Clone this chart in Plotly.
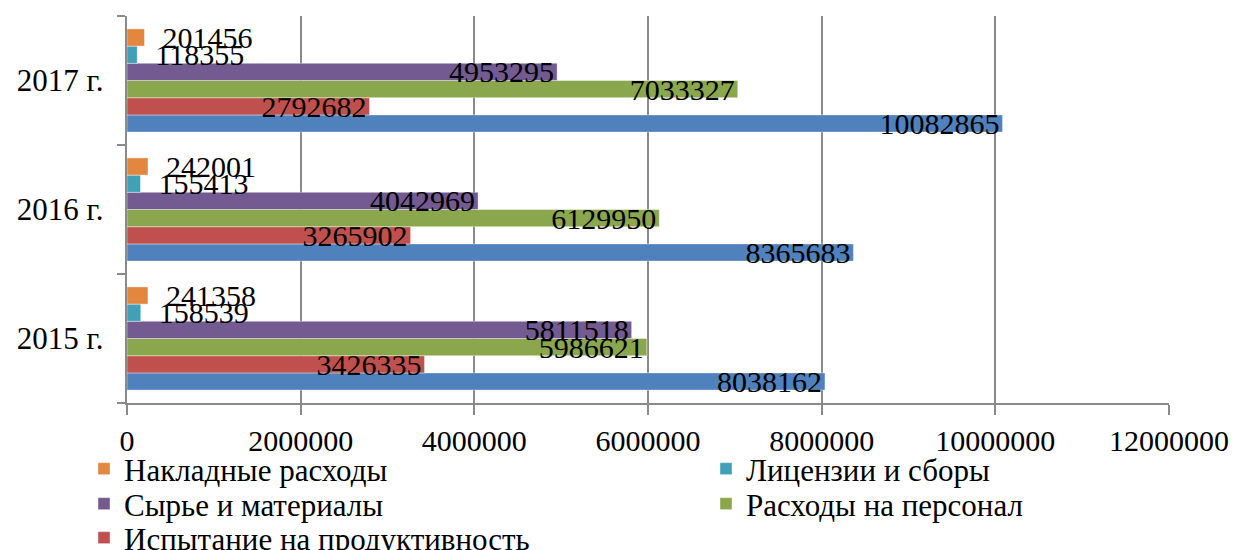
import plotly.graph_objects as go

years = ["2015 г.", "2016 г.", "2017 г."]

# Series, listed bottom-to-top within each year group
series_names = [
    "Исследования",
    "Испытание на продуктивность",
    "Расходы на персонал",
    "Сырье и материалы",
    "Лицензии и сборы",
    "Накладные расходы",
]
research = [8038162, 8365683, 10082865]
testing = [3426335, 3265902, 2792682]
personnel = [5986621, 6129950, 7033327]
materials = [5811518, 4042969, 4953295]
licenses = [158539, 155413, 118355]
overhead = [241358, 242001, 201456]

x_ticks = [0, 2000000, 4000000, 6000000, 8000000, 10000000, 12000000]

series_values = [research, testing, personnel, materials, licenses, overhead]
colors = ["#4F81BD", "#C0504D", "#8BA74D", "#735A90", "#41A0B8", "#E3873F"]
outside = [False, False, False, False, True, True]

# legend grid: (column, row) for each series — 2 columns x 3 rows
legend_cells = [(1, 2), (0, 2), (1, 1), (0, 1), (1, 0), (0, 0)]
col_x = [84, 706]          # px from left edge of the figure
row_y = [469, 504, 538]    # px from top edge (row centres)

FONT = "Liberation Serif, Times New Roman, serif"
FS = 30
LFS = 31
W, H = 1233, 550

fig = go.Figure()
legend_layout = {}
for i, (name, vals, col, out, cell) in enumerate(
        zip(series_names, series_values, colors, outside, legend_cells)):
    lid = "legend" if i == 0 else f"legend{i + 1}"
    fig.add_trace(go.Bar(
        y=years,
        x=vals,
        name=name,
        orientation="h",
        legend=lid,
        marker=dict(color=col, line=dict(color="rgba(255,255,255,0.5)", width=0.8)),
        text=[("  " + str(v)) if out else str(v) for v in vals],
        textposition="outside" if out else "inside",
        insidetextanchor="end",
        constraintext="none",
        textangle=0,
        cliponaxis=False,
        textfont=dict(family=FONT, size=FS, color="black"),
        insidetextfont=dict(family=FONT, size=FS, color="black"),
        outsidetextfont=dict(family=FONT, size=FS, color="black"),
    ))
    c, r = cell
    legend_layout[lid] = dict(
        orientation="v",
        xref="container",
        yref="container",
        x=col_x[c] / W,
        y=1 - row_y[r] / H,
        xanchor="left",
        yanchor="middle",
        font=dict(family=FONT, size=LFS, color="black"),
        itemwidth=30,
        bgcolor="rgba(0,0,0,0)",
        borderwidth=0,
    )

fig.update_layout(
    width=W,
    height=H,
    barmode="group",
    bargap=0.2,
    bargroupgap=0,
    plot_bgcolor="white",
    paper_bgcolor="white",
    margin=dict(l=127, r=64, t=16, b=147, autoexpand=False),
    font=dict(family=FONT, size=FS, color="black"),
    xaxis=dict(
        range=[0, 12000000],
        tickvals=x_ticks,
        ticktext=[str(v) for v in x_ticks],
        showgrid=True,
        gridcolor="#8A8A8A",
        gridwidth=1.5,
        zeroline=False,
        showline=True,
        linecolor="#8A8A8A",
        linewidth=1.5,
        ticks="outside",
        ticklen=10,
        tickwidth=1.5,
        tickcolor="#8A8A8A",
        tickfont=dict(family=FONT, size=FS, color="black"),
        fixedrange=True,
    ),
    yaxis=dict(
        categoryorder="array",
        categoryarray=years,
        showline=True,
        linecolor="#8A8A8A",
        linewidth=1.5,
        ticks="outside",
        tickson="boundaries",
        ticklen=8,
        tickwidth=1.5,
        tickcolor="#8A8A8A",
        showgrid=False,
        tickfont=dict(family=FONT, size=31, color="black"),
        ticksuffix="  ",
        fixedrange=True,
    ),
    **legend_layout,
)

fig.write_html("out.html")
